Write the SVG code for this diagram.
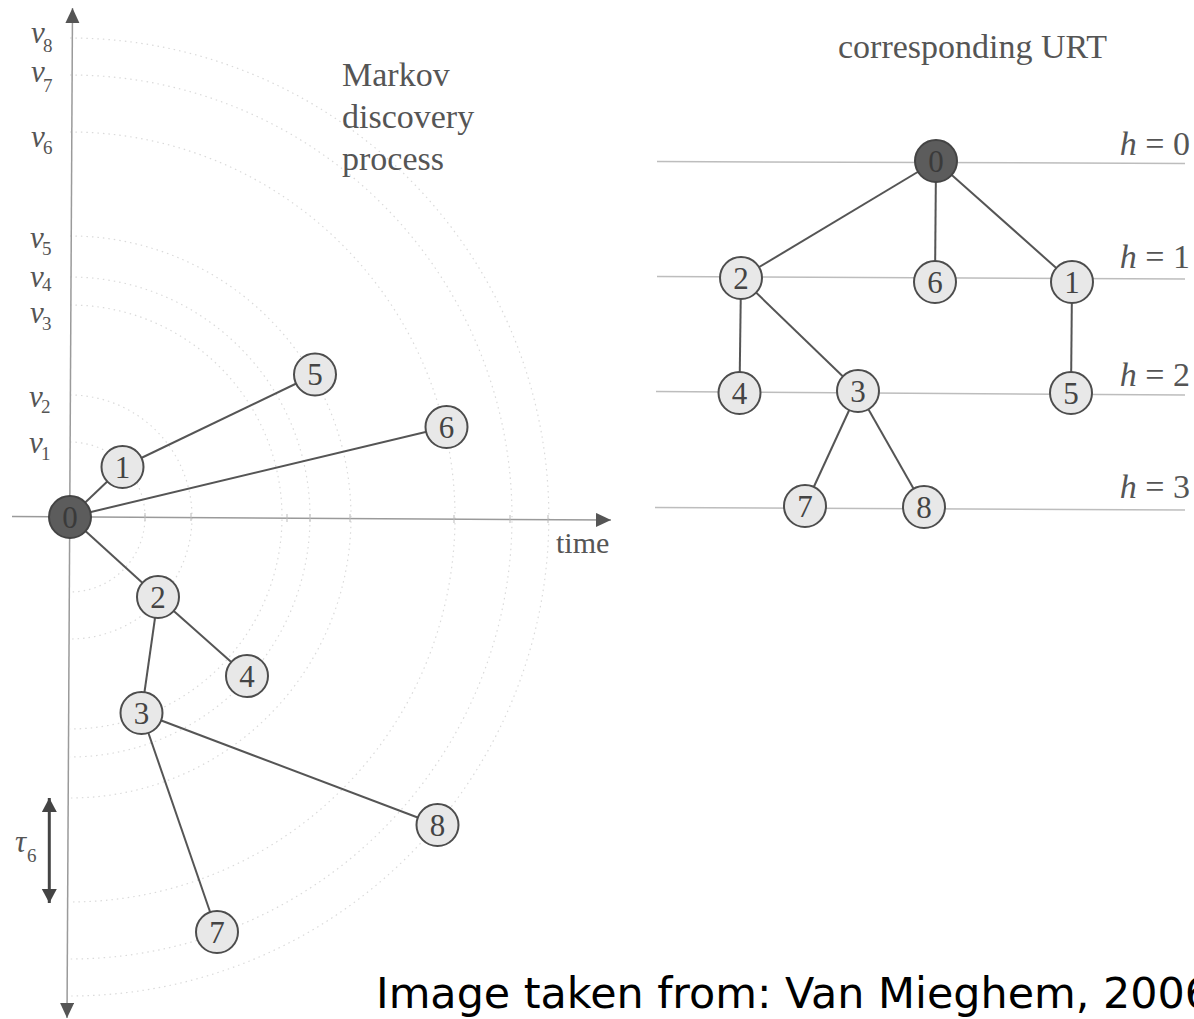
<svg xmlns="http://www.w3.org/2000/svg" width="1194" height="1019" viewBox="0 0 1194 1019">
<defs>
<style>
.nd circle{fill:#e8e8e8;stroke:#4d4d4d;stroke-width:2}
.rt circle{fill:#5c5c5c;stroke:#444;stroke-width:2}
.nd text{font-family:'Liberation Serif',serif;font-size:31px;fill:#444;text-anchor:middle}
.rt text{fill:#3a3a3a}
.edge{stroke:#555;stroke-width:2;fill:none}
.arc{fill:none;stroke:#dadada;stroke-width:1.2;stroke-dasharray:1.5 4}
.axis{stroke:#9a9a9a;stroke-width:1.5;fill:none}
.lvl{stroke:#bdbdbd;stroke-width:1.5}
.ser{font-family:'Liberation Serif',serif;fill:#555}
.vl{font-family:'Liberation Serif',serif;font-size:31px;fill:#555}
.vl tspan.s{font-style:normal;font-size:19px}
</style>
<marker id="ah" markerUnits="userSpaceOnUse" markerWidth="16" markerHeight="16" refX="15" refY="7" orient="auto-start-reverse">
<path d="M0,0 L15,7 L0,14 z" fill="#555"/>
</marker>
<marker id="th" markerUnits="userSpaceOnUse" markerWidth="16" markerHeight="16" refX="14" refY="7.5" orient="auto-start-reverse">
<path d="M0,0 L14,7.5 L0,15 z" fill="#444"/>
</marker>
</defs>
<rect width="1194" height="1019" fill="#fff"/>

<g id="arcs">
<path class="arc" d="M70 442 A75 75 0 0 1 70 592"/>
<path class="arc" d="M70 395 A122 122 0 0 1 70 639"/>
<path class="arc" d="M70 305 A212 212 0 0 1 70 729"/>
<path class="arc" d="M70 277 A240 240 0 0 1 70 757"/>
<path class="arc" d="M70 236 A281 281 0 0 1 70 798"/>
<path class="arc" d="M70 132 A385 385 0 0 1 70 902"/>
<path class="arc" d="M70 75 A442 442 0 0 1 70 959"/>
<path class="arc" d="M70 38 A479 479 0 0 1 70 996"/>
</g>

<g id="axes">
<line class="axis" x1="72.5" y1="8" x2="67" y2="1018" marker-start="url(#ah)" marker-end="url(#ah)"/>
<line class="axis" x1="12" y1="516.5" x2="611" y2="520" marker-end="url(#ah)"/>
<g stroke="#bbb" stroke-width="1">
<line x1="145" y1="513" x2="145" y2="521"/>
<line x1="191" y1="513" x2="191" y2="521"/>
<line x1="287" y1="514" x2="287" y2="522"/>
<line x1="310" y1="514" x2="310" y2="522"/>
<line x1="350" y1="514" x2="350" y2="522"/>
<line x1="454" y1="515" x2="454" y2="523"/>
<line x1="510" y1="515" x2="510" y2="523"/>
<line x1="548" y1="515" x2="548" y2="523"/>
</g>
<text class="ser" x="556" y="553" font-size="30">time</text>
<line x1="49.3" y1="798" x2="49.3" y2="903" stroke="#444" stroke-width="3" marker-start="url(#th)" marker-end="url(#th)"/>
<text class="vl" x="15" y="852" font-style="italic">τ<tspan class="s" x="27" y="862">6</tspan></text>
</g>

<g id="vlabels" font-style="italic">
<text class="vl" x="31" y="43">v<tspan class="s" x="43" y="52">8</tspan></text>
<text class="vl" x="31" y="82">v<tspan class="s" x="43" y="92">7</tspan></text>
<text class="vl" x="31" y="147">v<tspan class="s" x="43" y="154">6</tspan></text>
<text class="vl" x="30" y="248">v<tspan class="s" x="42" y="255">5</tspan></text>
<text class="vl" x="30" y="287">v<tspan class="s" x="42" y="291">4</tspan></text>
<text class="vl" x="30" y="323">v<tspan class="s" x="42" y="330">3</tspan></text>
<text class="vl" x="29" y="407">v<tspan class="s" x="41" y="413">2</tspan></text>
<text class="vl" x="29" y="453">v<tspan class="s" x="41" y="460">1</tspan></text>
</g>

<g id="titles">
<text class="ser" font-size="34" x="342" y="86">Markov</text>
<text class="ser" font-size="34" x="342" y="128">discovery</text>
<text class="ser" font-size="34" x="342" y="170">process</text>
<text class="ser" font-size="34" x="838" y="58">corresponding URT</text>
</g>

<g id="levels">
<line class="lvl" x1="657" y1="161.5" x2="1185" y2="163.5"/>
<line class="lvl" x1="657" y1="276.5" x2="1185" y2="279"/>
<line class="lvl" x1="656" y1="391.5" x2="1185" y2="395"/>
<line class="lvl" x1="655" y1="507.5" x2="1185" y2="510"/>
<g class="ser" font-size="34" text-anchor="end">
<text x="1190" y="155"><tspan font-style="italic">h</tspan> = 0</text>
<text x="1190" y="268"><tspan font-style="italic">h</tspan> = 1</text>
<text x="1190" y="386"><tspan font-style="italic">h</tspan> = 2</text>
<text x="1190" y="498"><tspan font-style="italic">h</tspan> = 3</text>
</g>
</g>

<g id="connectors">
<line class="edge" x1="70" y1="517" x2="122.5" y2="467"/>
<line class="edge" x1="122.5" y1="467" x2="315" y2="374.5"/>
<line class="edge" x1="70" y1="517" x2="446.5" y2="427"/>
<line class="edge" x1="70" y1="517" x2="158" y2="597"/>
<line class="edge" x1="158" y1="597" x2="247" y2="676"/>
<line class="edge" x1="158" y1="597" x2="141.5" y2="713"/>
<line class="edge" x1="141.5" y1="713" x2="437.5" y2="825"/>
<line class="edge" x1="141.5" y1="713" x2="217" y2="932"/>
<line class="edge" x1="936" y1="161" x2="741" y2="278"/>
<line class="edge" x1="936" y1="161" x2="935" y2="282"/>
<line class="edge" x1="936" y1="161" x2="1072" y2="282"/>
<line class="edge" x1="741" y1="278" x2="739.5" y2="393"/>
<line class="edge" x1="741" y1="278" x2="858" y2="391"/>
<line class="edge" x1="1072" y1="282" x2="1071" y2="393"/>
<line class="edge" x1="858" y1="391" x2="805" y2="506"/>
<line class="edge" x1="858" y1="391" x2="924" y2="507"/>
</g>

<g id="L0" class="nd rt"><circle cx="70" cy="517" r="21"/><text x="70" y="527.5">0</text></g>
<g id="L1" class="nd"><circle cx="122.5" cy="467" r="21"/><text x="122.5" y="477.5">1</text></g>
<g id="L5" class="nd"><circle cx="315" cy="374.5" r="21"/><text x="315" y="385">5</text></g>
<g id="L6" class="nd"><circle cx="446.5" cy="427" r="21"/><text x="446.5" y="437.5">6</text></g>
<g id="L2" class="nd"><circle cx="158" cy="597" r="21"/><text x="158" y="607.5">2</text></g>
<g id="L4" class="nd"><circle cx="247" cy="676" r="21"/><text x="247" y="686.5">4</text></g>
<g id="L3" class="nd"><circle cx="141.5" cy="713" r="21"/><text x="141.5" y="723.5">3</text></g>
<g id="L8" class="nd"><circle cx="437.5" cy="825" r="21"/><text x="437.5" y="835.5">8</text></g>
<g id="L7" class="nd"><circle cx="217" cy="932" r="21"/><text x="217" y="942.5">7</text></g>

<g id="R0" class="nd rt"><circle cx="936" cy="161" r="21"/><text x="936" y="171.5">0</text></g>
<g id="R2" class="nd"><circle cx="741" cy="278" r="21"/><text x="741" y="288.5">2</text></g>
<g id="R6" class="nd"><circle cx="935" cy="282" r="21"/><text x="935" y="292.5">6</text></g>
<g id="R1" class="nd"><circle cx="1072" cy="282" r="21"/><text x="1072" y="292.5">1</text></g>
<g id="R4" class="nd"><circle cx="739.5" cy="393" r="21"/><text x="739.5" y="403.5">4</text></g>
<g id="R3" class="nd"><circle cx="858" cy="391" r="21"/><text x="858" y="401.5">3</text></g>
<g id="R5" class="nd"><circle cx="1071" cy="393" r="21"/><text x="1071" y="403.5">5</text></g>
<g id="R7" class="nd"><circle cx="805" cy="506" r="21"/><text x="805" y="516.5">7</text></g>
<g id="R8" class="nd"><circle cx="924" cy="507" r="21"/><text x="924" y="517.5">8</text></g>

<text id="credit" x="376" y="1008" font-family="'DejaVu Sans',sans-serif" font-size="42" fill="#000" textLength="836" lengthAdjust="spacingAndGlyphs">Image taken from: Van Mieghem, 2006</text>
</svg>
